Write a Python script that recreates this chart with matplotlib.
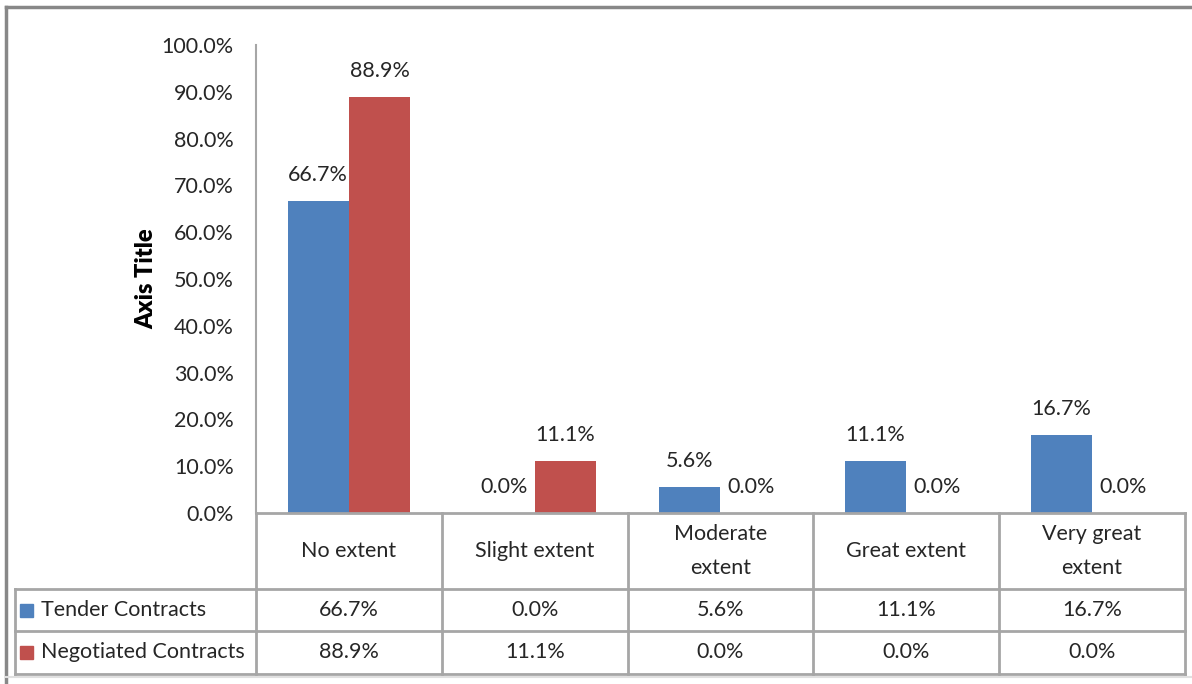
import matplotlib.pyplot as plt
from matplotlib.lines import Line2D
from matplotlib.patches import Rectangle

categories = ["No extent", "Slight extent", "Moderate\nextent", "Great extent", "Very great\nextent"]
series_names = ["Tender Contracts", "Negotiated Contracts"]
tender = [66.7, 0.0, 5.6, 11.1, 16.7]
negotiated = [88.9, 11.1, 0.0, 0.0, 0.0]
yticks = [0, 10, 20, 30, 40, 50, 60, 70, 80, 90, 100]

blue = "#4F81BD"
red = "#C0504D"
grid_col = "#A6A6A6"
txt = "#262626"
fs = 15.5

plt.rcParams['font.family'] = ['Lato', 'DejaVu Sans']
plt.rcParams['font.size'] = fs

W, H = 1192, 684
fig = plt.figure(figsize=(W / 100, H / 100), dpi=100)

# plot area in pixels: x 256..1185, y 45..513
px_l, px_r, px_t, px_b = 256, 1185, 45, 513
tab_l, tab_b = 15, 674
ax = fig.add_axes([px_l / W, 1 - px_b / H, (px_r - px_l) / W, (px_b - px_t) / H])

n = len(categories)
w = 0.33
xs = list(range(n))
ax.bar([x - w / 2 for x in xs], tender, w, color=blue)
ax.bar([x + w / 2 for x in xs], negotiated, w, color=red)

for x, v in zip(xs, tender):
    ax.annotate(f"{v:.1f}%", (x - w / 2, v), xytext=(0, 26), textcoords="offset pixels",
                ha="center", va="center", color=txt, fontsize=fs)
for x, v in zip(xs, negotiated):
    ax.annotate(f"{v:.1f}%", (x + w / 2, v), xytext=(0, 26), textcoords="offset pixels",
                ha="center", va="center", color=txt, fontsize=fs)

ax.set_xlim(-0.5, n - 0.5)
ax.set_ylim(0, 100)
ax.set_yticks(yticks)
ax.set_yticklabels([f"{t:.1f}%" for t in yticks], color=txt)
ax.tick_params(axis="y", length=0, pad=16)
ax.set_xticks([])
for s in ["top", "right", "bottom"]:
    ax.spines[s].set_visible(False)
ax.spines["left"].set_color(grid_col)
ax.spines["left"].set_linewidth(1.5)
ax.set_ylabel("Axis Title", fontweight="heavy", fontsize=17, color="black", labelpad=3)

# data table below the plot, sharing the category scale
unit = (px_r - px_l) / n
tb = fig.add_axes([tab_l / W, 1 - tab_b / H, (px_r - tab_l) / W, (tab_b - px_b) / H])
tb.set_xlim(-0.5 - (px_l - tab_l) / unit, n - 0.5)
tb.set_ylim(tab_b - px_b, 0)
tb.axis("off")
rows = [0, 76, 118, tab_b - px_b]
left = -0.5 - (px_l - tab_l) / unit
lk = dict(color=grid_col, lw=2, clip_on=False)
tb.plot([-0.5, n - 0.5], [rows[0], rows[0]], **lk)
for r in rows[1:]:
    tb.plot([left, n - 0.5], [r, r], **lk)
for k in range(n + 1):
    tb.plot([k - 0.5, k - 0.5], [rows[0], rows[-1]], **lk)
tb.plot([left, left], [rows[1], rows[-1]], **lk)

for x, c in zip(xs, categories):
    tb.text(x, (rows[0] + rows[1]) / 2, c, ha="center", va="center", color=txt,
            fontsize=fs, linespacing=1.9)

for i, (name, vals, col) in enumerate(zip(series_names, [tender, negotiated], [blue, red])):
    yc = (rows[i + 1] + rows[i + 2]) / 2
    sq = 13 / unit
    tb.add_patch(Rectangle((left + 5 / unit, yc - 6.5), sq, 13, color=col, clip_on=False))
    tb.text(left + 26 / unit, yc, name, ha="left", va="center", color=txt, fontsize=fs)
    for x, v in zip(xs, vals):
        tb.text(x, yc, f"{v:.1f}%", ha="center", va="center", color=txt, fontsize=fs)

# chart frame
fig.add_artist(Line2D([6 / W, 6 / W], [0, 1 - 7 / H], color="#888888", lw=2.5))
fig.add_artist(Line2D([6 / W, 1], [1 - 7 / H, 1 - 7 / H], color="#888888", lw=2.5))
fig.add_artist(Line2D([6 / W, 1], [1 - 677 / H, 1 - 677 / H], color="#E0E0E0", lw=1.5))

fig.savefig("out.png", dpi=100, facecolor="white")
